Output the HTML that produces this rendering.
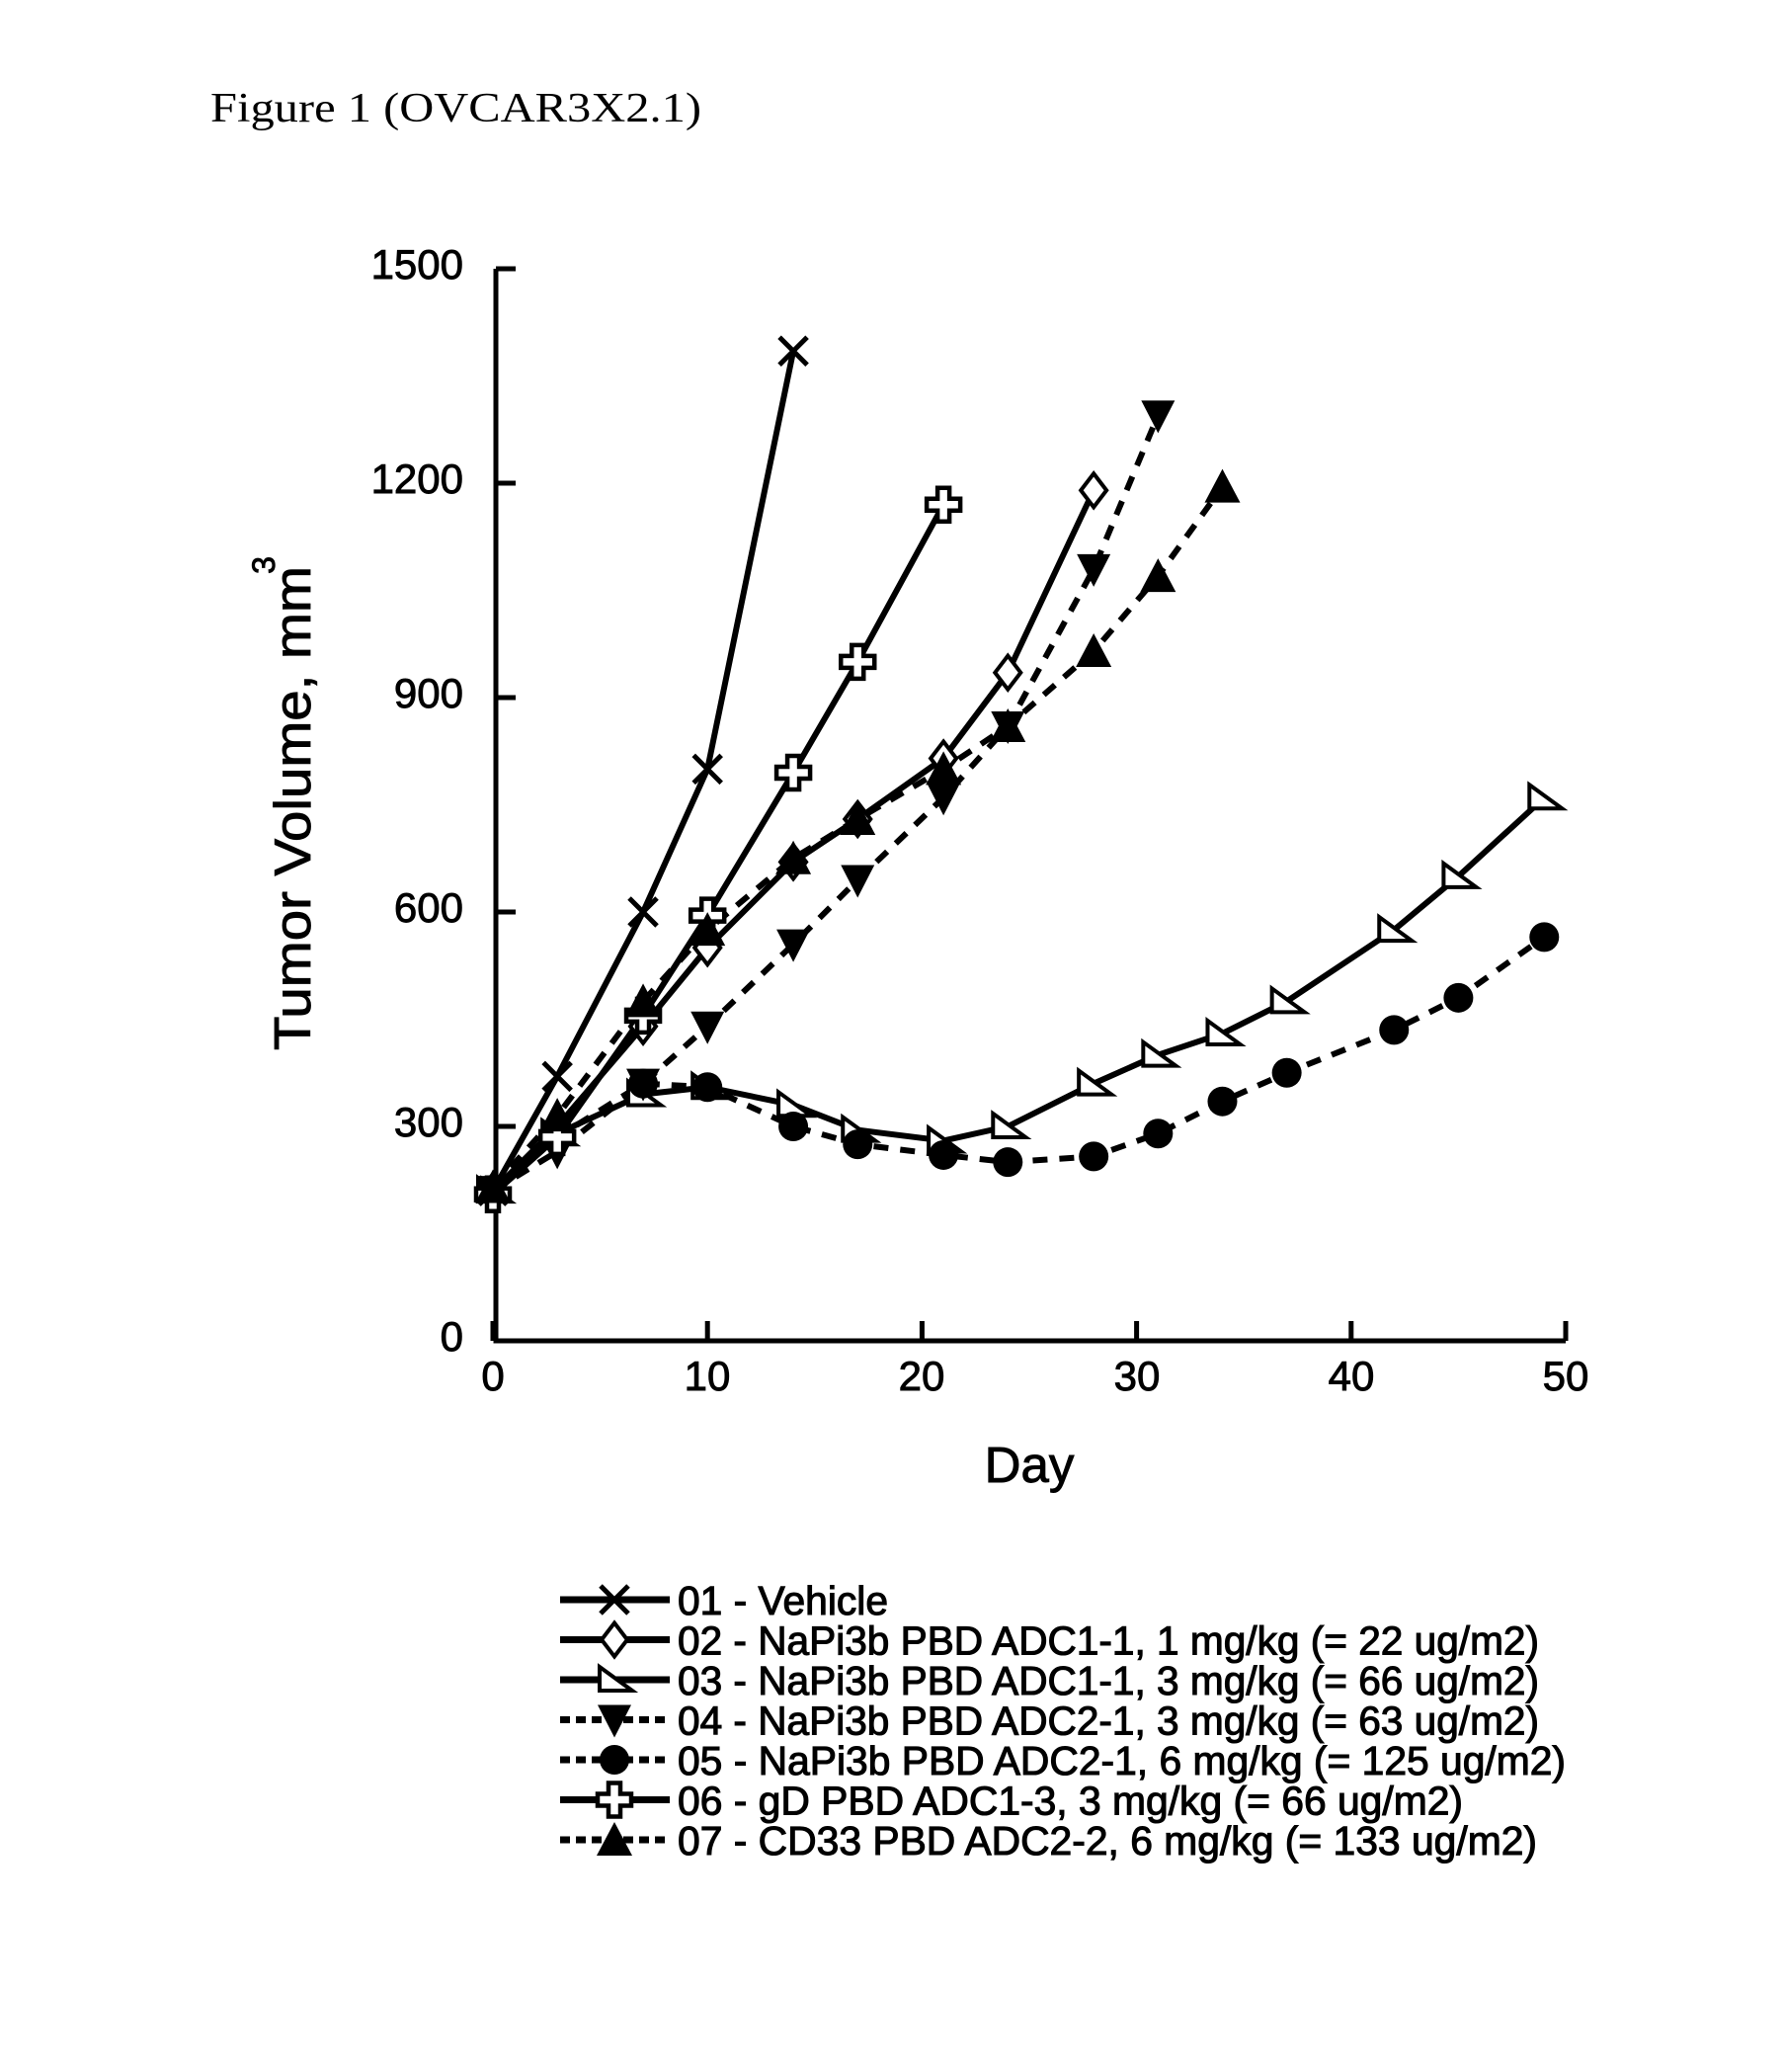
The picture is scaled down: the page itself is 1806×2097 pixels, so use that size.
<!DOCTYPE html>
<html><head><meta charset="utf-8"><style>html,body{margin:0;padding:0;background:#fff}svg{display:block}</style></head>
<body>
<svg width="1806" height="2097" viewBox="0 0 1806 2097" xmlns="http://www.w3.org/2000/svg">
<rect width="1806" height="2097" fill="#fff"/>
<text x="213" y="123" font-family="Liberation Serif, serif" font-size="42" textLength="497" lengthAdjust="spacingAndGlyphs">Figure 1 (OVCAR3X2.1)</text>
<g id="plot"></g>
<g font-family="Liberation Sans, sans-serif" font-size="42" fill="#000" stroke="#000" stroke-width="0.9">
<text x="469" y="282" text-anchor="end">1500</text>
<text x="469" y="499" text-anchor="end">1200</text>
<text x="469" y="716" text-anchor="end">900</text>
<text x="469" y="933" text-anchor="end">600</text>
<text x="469" y="1150" text-anchor="end">300</text>
<text x="469" y="1367" text-anchor="end">0</text>
<text x="499" y="1407" text-anchor="middle">0</text>
<text x="716" y="1407" text-anchor="middle">10</text>
<text x="933" y="1407" text-anchor="middle">20</text>
<text x="1151" y="1407" text-anchor="middle">30</text>
<text x="1368" y="1407" text-anchor="middle">40</text>
<text x="1585" y="1407" text-anchor="middle">50</text>
<text x="1042" y="1500" text-anchor="middle" font-size="51">Day</text>
<text transform="translate(314,818) rotate(-90)" text-anchor="middle" font-size="52" textLength="490" lengthAdjust="spacingAndGlyphs">Tumor Volume, mm</text>
<text transform="translate(278,572) rotate(-90)" text-anchor="middle" font-size="32">3</text>
</g>
<g id="legend"></g>
</svg>
<script>
(function(){
var NS="http://www.w3.org/2000/svg";
function X(d){return 499+d*21.72;}
function Y(v){return 1357-v*0.7233;}
function el(p,t,a){var e=document.createElementNS(NS,t);for(var k in a)e.setAttribute(k,a[k]);p.appendChild(e);return e;}
var g=document.getElementById('plot');
el(g,'path',{d:'M502 272 V1357 H1585',fill:'none',stroke:'#000','stroke-width':5});
for(var i=0;i<=5;i++){var y=Y(i*300);el(g,'line',{x1:502,y1:y,x2:522,y2:y,stroke:'#000','stroke-width':5});}
for(var i=0;i<=5;i++){var x=X(i*10);el(g,'line',{x1:x,y1:1357,x2:x,y2:1337,stroke:'#000','stroke-width':5});}
function marker(p,type,x,y){
 var s=14;
 if(type=='x'){el(p,'path',{d:'M'+(x-s)+' '+(y-s)+'L'+(x+s)+' '+(y+s)+'M'+(x-s)+' '+(y+s)+'L'+(x+s)+' '+(y-s),stroke:'#000','stroke-width':5,fill:'none'});}
 else if(type=='d'){el(p,'path',{d:'M'+x+' '+(y-17)+'L'+(x+13)+' '+y+'L'+x+' '+(y+17)+'L'+(x-13)+' '+y+'Z',fill:'#fff',stroke:'#000','stroke-width':4});}
 else if(type=='rt'){el(p,'path',{d:'M'+(x-15)+' '+(y-13)+'L'+(x+18)+' '+(y+11)+'L'+(x-15)+' '+(y+11)+'Z',fill:'#fff',stroke:'#000','stroke-width':4});}
 else if(type=='dt'){el(p,'path',{d:'M'+(x-17)+' '+(y-15)+'L'+(x+17)+' '+(y-15)+'L'+x+' '+(y+18)+'Z',fill:'#000'});}
 else if(type=='ut'){el(p,'path',{d:'M'+(x-18)+' '+(y+16)+'L'+(x+18)+' '+(y+16)+'L'+x+' '+(y-18)+'Z',fill:'#000'});}
 else if(type=='c'){el(p,'ellipse',{cx:x,cy:y,rx:15,ry:15,fill:'#000'});}
 else if(type=='p'){var a=6,b=17;el(p,'path',{d:'M'+(x-a)+' '+(y-b)+'H'+(x+a)+'V'+(y-a)+'H'+(x+b)+'V'+(y+a)+'H'+(x+a)+'V'+(y+b)+'H'+(x-a)+'V'+(y+a)+'H'+(x-b)+'V'+(y-a)+'H'+(x-a)+'Z',fill:'#fff',stroke:'#000','stroke-width':4.5});}
}
var S=[
 ['x',0,[[0,210],[3,370],[7,600],[10,800],[14,1385]]],
 ['d',0,[[0,210],[3,300],[7,440],[10,550],[14,670],[17,730],[21,815],[24,935],[28,1190]]],
 ['rt',0,[[0,210],[3,290],[7,345],[10,355],[14,330],[17,295],[21,280],[24,300],[28,360],[31,400],[34,430],[37,475],[42,575],[45,650],[49,760]]],
 ['dt',1,[[0,210],[3,265],[7,360],[10,440],[14,555],[17,645],[21,760],[24,860],[28,1080],[31,1295]]],
 ['c',1,[[0,210],[3,285],[7,360],[10,355],[14,300],[17,275],[21,260],[24,250],[28,258],[31,290],[34,335],[37,375],[42,435],[45,480],[49,565]]],
 ['p',0,[[0,205],[3,285],[7,455],[10,595],[14,795],[17,950],[21,1170]]],
 ['ut',1,[[0,215],[3,315],[7,475],[10,575],[14,675],[17,730],[21,800],[24,860],[28,965],[31,1070],[34,1195]]]
];
S.forEach(function(s){
 var d=s[2].map(function(p,i){return (i?'L':'M')+X(p[0])+' '+Y(p[1]);}).join('');
 var a={d:d,fill:'none',stroke:'#000','stroke-width':6};
 if(s[1])a['stroke-dasharray']='15 12';
 el(g,'path',a);
});
S.forEach(function(s){s[2].forEach(function(p){marker(g,s[0],X(p[0]),Y(p[1]));});});
var L=document.getElementById('legend');
var labels=["01 - Vehicle","02 - NaPi3b PBD ADC1-1, 1 mg/kg (= 22 ug/m2)","03 - NaPi3b PBD ADC1-1, 3 mg/kg (= 66 ug/m2)","04 - NaPi3b PBD ADC2-1, 3 mg/kg (= 63 ug/m2)","05 - NaPi3b PBD ADC2-1, 6 mg/kg (= 125 ug/m2)","06 - gD PBD ADC1-3, 3 mg/kg (= 66 ug/m2)","07 - CD33 PBD ADC2-2, 6 mg/kg (= 133 ug/m2)"];
var widths=[213,872,872,872,899,795,870];
var types=['x','d','rt','dt','c','p','ut'];
for(var i=0;i<7;i++){
 var y=1619+i*40.5;
 var a={x1:567,y1:y,x2:678,y2:y,stroke:'#000','stroke-width':7};
 if(S[i][1])a['stroke-dasharray']='10 6';
 el(L,'line',a);
 marker(L,types[i],622,y);
 var t=el(L,'text',{x:686,y:y+15,'font-family':'Liberation Sans, sans-serif','font-size':41,stroke:'#000','stroke-width':1.1,textLength:widths[i],lengthAdjust:'spacingAndGlyphs'});
 t.textContent=labels[i];
}
})();
</script>
</body></html>
